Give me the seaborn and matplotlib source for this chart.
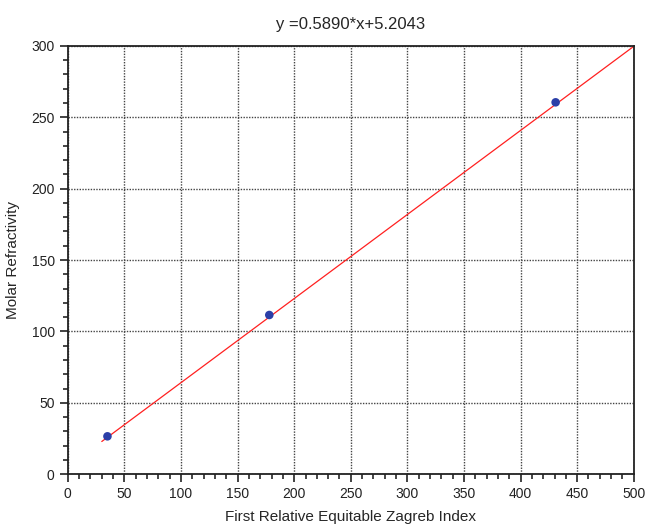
import matplotlib
matplotlib.use("Agg")
import matplotlib.pyplot as plt
import numpy as np
import pandas as pd
import seaborn as sns
from matplotlib.ticker import MultipleLocator

# data
zagreb = [35, 178, 431]
refractivity = [26.5, 111.5, 260.5]
slope = 0.5890
intercept = 5.2043
fit_x = [30, 500]

sns.set_style("ticks")
plt.rcParams["font.family"] = ["Liberation Sans", "DejaVu Sans"]

points = pd.DataFrame({"x": zagreb, "y": refractivity})
fit = pd.DataFrame({"x": fit_x})
fit["y"] = slope * fit["x"] + intercept

fig = plt.figure(figsize=(6.46, 5.28), dpi=100)
ax = fig.add_axes([0.105, 0.102, 0.876, 0.811])

sns.lineplot(data=fit, x="x", y="y", color="#ff2020", linewidth=0.9, ax=ax)
sns.scatterplot(data=points, x="x", y="y", color="#2b3fa8", s=38,
                edgecolor="none", zorder=3, ax=ax)

ax.set_xlim(0, 500)
ax.set_ylim(0, 300)
ax.xaxis.set_major_locator(MultipleLocator(50))
ax.xaxis.set_minor_locator(MultipleLocator(10))
ax.yaxis.set_major_locator(MultipleLocator(50))
ax.yaxis.set_minor_locator(MultipleLocator(10))
ax.tick_params(which="major", direction="out", length=6, width=1.2,
               labelsize=10, colors="#222222")
ax.tick_params(which="minor", direction="out", length=3.5, width=1.2)
ax.grid(True, which="major", linestyle=(0, (1, 1)), color="#444444", linewidth=1)
for side in ax.spines.values():
    side.set_linewidth(1.3)
    side.set_color("#222222")

ax.set_xlabel("First Relative Equitable Zagreb Index", fontsize=11, labelpad=6)
ax.set_ylabel("Molar Refractivity", fontsize=11, labelpad=8)
ax.set_title("y =0.5890*x+5.2043", fontsize=12, pad=12)

fig.savefig("out.png", dpi=100)
